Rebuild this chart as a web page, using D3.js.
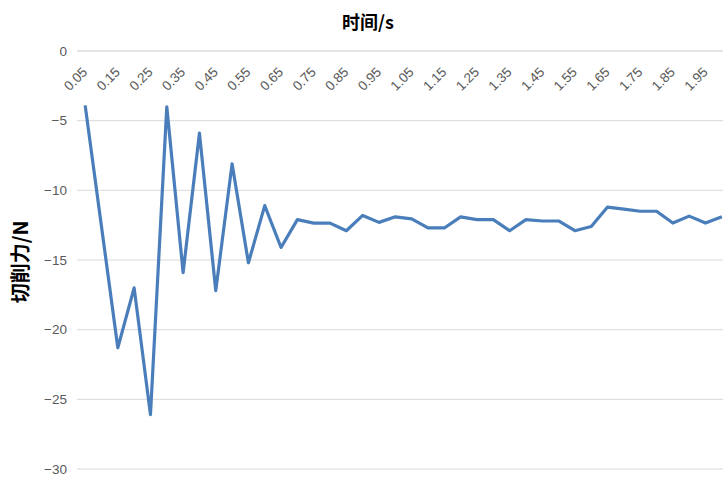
<!DOCTYPE html>
<html><head><meta charset="utf-8">
<script src="https://cdn.jsdelivr.net/npm/d3@7/dist/d3.min.js"></script>
<style>body{margin:0;background:#fff;}svg{display:block;}</style>
</head><body>
<svg id="chart" width="723" height="478"></svg>
<script>
(function(){
const categories = ["0.05","0.10","0.15","0.20","0.25","0.30","0.35","0.40","0.45","0.50",
"0.55","0.60","0.65","0.70","0.75","0.80","0.85","0.90","0.95","1.00",
"1.05","1.10","1.15","1.20","1.25","1.30","1.35","1.40","1.45","1.50",
"1.55","1.60","1.65","1.70","1.75","1.80","1.85","1.90","1.95","2.00"];
const forceValues = [-3.9,-12.6,-21.3,-17.0,-26.1,-4.0,-15.9,-5.9,-17.2,-8.1,
-15.2,-11.1,-14.1,-12.1,-12.35,-12.35,-12.9,-11.8,-12.3,-11.9,
-12.05,-12.7,-12.7,-11.9,-12.1,-12.1,-12.9,-12.1,-12.2,-12.2,
-12.9,-12.6,-11.2,-11.35,-11.5,-11.5,-12.35,-11.85,-12.35,-11.9];
const yTicks = [0,-5,-10,-15,-20,-25,-30];
const xTickLabels = categories.filter((d,i)=>i%2===0);
const titleX = "时间/s";
const titleY = "切削力/N";

const svg = d3.select("#chart");
const mLeft = 77, mRight = 730, mTop = 51, mBottom = 469;
const x = d3.scaleBand().domain(categories).range([mLeft, mRight]);
const y = d3.scaleLinear().domain([-30, 0]).range([mBottom, mTop]);

svg.append("g").selectAll("line").data(yTicks).join("line")
  .attr("x1", mLeft).attr("x2", 723)
  .attr("y1", d=>y(d)).attr("y2", d=>y(d))
  .attr("stroke", d=> d===0 ? "#c8c8c8" : "#d9d9d9").attr("stroke-width", 1);

const yAxis = d3.axisLeft(y).tickValues(yTicks).tickSize(0).tickPadding(10);
const gy = svg.append("g").attr("transform", `translate(${mLeft},0)`).call(yAxis);
gy.select(".domain").remove();
gy.selectAll("text").attr("font-family","Liberation Sans, Arial, sans-serif")
  .attr("font-size", 13.5).attr("fill", "#595959");

const xAxis = d3.axisBottom(x).tickValues(xTickLabels).tickSize(0).tickPadding(0);
const gx = svg.append("g").attr("transform", `translate(0,${y(0)})`).call(xAxis);
gx.select(".domain").remove();
gx.selectAll("text")
  .attr("font-family","Liberation Sans, Arial, sans-serif")
  .attr("font-size", 13.5).attr("fill", "#595959")
  .attr("text-anchor","end").attr("dy", null)
  .attr("transform", "translate(3,22) rotate(-45)");

const line = d3.line().x((d,i)=>x(categories[i]) + x.bandwidth()/2).y(d=>y(d));
svg.append("path").datum(forceValues)
  .attr("d", line).attr("fill","none")
  .attr("stroke","#4a7ebb").attr("stroke-width",3.2)
  .attr("stroke-linejoin","round");

svg.append("text").attr("x", 368).attr("y", 29).attr("text-anchor","middle")
  .attr("font-family","Noto Sans CJK SC, sans-serif").attr("font-weight","bold")
  .attr("font-size", 18).attr("fill","#000").text(titleX);
svg.append("text").attr("transform","translate(28,262) rotate(-90)").attr("text-anchor","middle")
  .attr("font-family","Noto Sans CJK SC, sans-serif").attr("font-weight","bold")
  .attr("font-size", 20).attr("fill","#000").text(titleY);
})();
</script>
</body></html>
